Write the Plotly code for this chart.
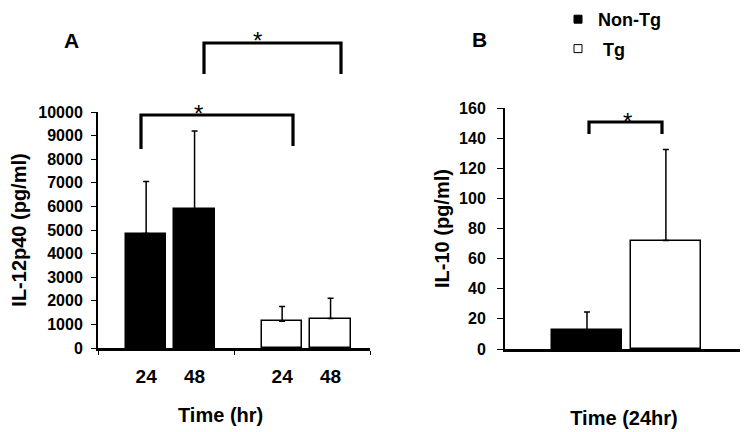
import plotly.graph_objects as go

# ---------------- data ----------------
groups = ["Non-Tg", "Tg"]
times_a = ["24", "48"]
# Panel A: IL-12p40 (pg/ml), mean and upper error (SD) per time, per group
il12_mean = {"24": [4850, 1130], "48": [5900, 1250]}
il12_sd = {"24": [2200, 630], "48": [3300, 860]}
# Panel B: IL-10 (pg/ml) at 24 hr
il10_mean = [12.5, 72]
il10_sd = [12, 60.5]

y_ticks_a = [0, 1000, 2000, 3000, 4000, 5000, 6000, 7000, 8000, 9000, 10000]
y_ticks_b = [0, 20, 40, 60, 80, 100, 120, 140, 160]

# ---------------- style ----------------
FONT = "Liberation Sans, Arial, sans-serif"
W, H = 748, 432
PAGE_OFF = 8  # page body margin compensation
fill = {"Non-Tg": "black", "Tg": "white"}
offsets_a = {"24": -0.294, "48": 0.062}
bar_w_a = 0.296
offsets_b = {"Non-Tg": -0.3025, "Tg": 0.029}
bar_w_b = 0.294


def px(x):
    return (x - PAGE_OFF) / W


def py(y):
    return 1 - (y - PAGE_OFF) / H


fig = go.Figure()

# Panel A bars
gx = list(range(len(groups)))
tickvals_a, ticktext_a = [], []
for t in times_a:
    fig.add_trace(go.Bar(
        x=gx, y=il12_mean[t], xaxis="x", yaxis="y",
        offset=offsets_a[t], width=bar_w_a,
        marker=dict(color=[fill[g] for g in groups],
                    line=dict(color="black", width=1.5)),
        error_y=dict(type="data", symmetric=False, array=il12_sd[t],
                     arrayminus=[0] * len(groups), color="black",
                     thickness=1.5, width=3),
        showlegend=False, name=t,
    ))
    for i in gx:
        tickvals_a.append(i + offsets_a[t] + bar_w_a / 2)
        ticktext_a.append(t)

# Panel B bars
for gi, g in enumerate(groups):
    fig.add_trace(go.Bar(
        x=[0], y=[il10_mean[gi]], xaxis="x2", yaxis="y2",
        offset=offsets_b[g], width=bar_w_b,
        marker=dict(color=fill[g], line=dict(color="black", width=1.5)),
        error_y=dict(type="data", symmetric=False, array=[il10_sd[gi]],
                     arrayminus=[0], color="black", thickness=1.5, width=3),
        showlegend=False, name=g,
    ))

# legend entries
for gi, g in enumerate(groups):
    fig.add_trace(go.Scatter(
        x=[None], y=[None], mode="markers", xaxis="x2", yaxis="y2",
        name=g if g != "Tg" else "\u00a0Tg", legendgroup=g,
        marker=dict(symbol="square", size=8, color=fill[g],
                    line=dict(color="black", width=1)),
    ))

axis_font = dict(family=FONT, size=16, color="black", weight="bold")
title_font = dict(family=FONT, size=20, color="black", weight="bold")

fig.update_layout(
    width=W, height=H,
    margin=dict(l=0, r=0, t=0, b=0, autoexpand=False),
    paper_bgcolor="white", plot_bgcolor="white",
    font=dict(family=FONT, color="black"),
    bargap=0,
    xaxis=dict(
        domain=[px(98), px(370)], range=[-0.5, 1.5], anchor="y",
        automargin=False,
        showline=True, linecolor="black", linewidth=2.5,
        showgrid=False, zeroline=False,
        tickmode="array", tickvals=tickvals_a, ticktext=ticktext_a,
        ticks="", ticklabelstandoff=9,
        tickfont=dict(family=FONT, size=19, color="black", weight="bold"),
        minor=dict(tickmode="linear", tick0=-0.5, dtick=1, ticks="outside",
                   ticklen=4, tickcolor="black", tickwidth=1),
    ),
    yaxis=dict(
        domain=[py(348), py(112)], range=[0, 10000], anchor="x",
        automargin=False,
        showline=True, linecolor="black", linewidth=2,
        showgrid=False, zeroline=False,
        tickmode="array", tickvals=y_ticks_a,
        ticktext=[str(v) for v in y_ticks_a],
        ticks="outside", ticklen=5, tickcolor="black", tickwidth=1,
        ticklabelstandoff=5, tickfont=axis_font,
        title=dict(text="IL-12p40 (pg/ml)", font=title_font, standoff=6),
    ),
    xaxis2=dict(
        domain=[px(505), px(743)], range=[-0.5, 0.5], anchor="y2",
        automargin=False,
        showline=True, linecolor="black", linewidth=2.5,
        showgrid=False, zeroline=False, showticklabels=False, ticks="",
        title=dict(text="Time (24hr)", font=title_font, standoff=61),
    ),
    yaxis2=dict(
        domain=[py(349), py(108)], range=[0, 160], anchor="x2",
        automargin=False,
        showline=True, linecolor="black", linewidth=2,
        showgrid=False, zeroline=False,
        tickmode="array", tickvals=y_ticks_b,
        ticktext=[str(v) for v in y_ticks_b],
        ticks="outside", ticklen=6, tickcolor="black", tickwidth=1,
        ticklabelstandoff=8, tickfont=axis_font,
        title=dict(text="IL-10 (pg/ml)", font=title_font, standoff=4),
    ),
    legend=dict(
        x=px(558), y=py(1), xanchor="left", yanchor="top",
        font=dict(family=FONT, size=18, color="black", weight="bold"),
        tracegroupgap=3, bgcolor="rgba(0,0,0,0)",
    ),
)

# x title of panel A (offset left of the axis centre, as in the original)
fig.add_annotation(text="Time (hr)", x=px(220), y=py(415), xref="paper",
                   yref="paper", xanchor="center", yanchor="middle",
                   showarrow=False, font=title_font)

# significance brackets
bracket = dict(type="path", xref="paper", yref="paper",
               line=dict(color="black", width=3.2))


def bpath(x0, x1, ytop, yl, yr):
    return (f"M {px(x0)} {py(yl)} L {px(x0)} {py(ytop)} "
            f"L {px(x1)} {py(ytop)} L {px(x1)} {py(yr)}")


fig.add_shape(path=bpath(141, 293, 115, 149, 146), **bracket)
fig.add_shape(path=bpath(204, 341, 43, 74, 74), **bracket)
fig.add_shape(path=bpath(589, 662, 122, 134, 134), **bracket)

star_font = dict(family=FONT, size=24, color="black")
for (x, y) in [(198, 107), (257, 35), (627, 115)]:
    fig.add_annotation(text="*", x=px(x), y=py(y + 6), xref="paper", yref="paper",
                       xanchor="center", yanchor="middle",
                       showarrow=False, font=star_font)

panel_font = dict(family=FONT, size=21, color="black", weight="bold")
fig.add_annotation(text="A", x=px(72), y=py(41), xref="paper", yref="paper",
                   xanchor="center", yanchor="middle",
                   showarrow=False, font=panel_font)
fig.add_annotation(text="B", x=px(479), y=py(39), xref="paper", yref="paper",
                   xanchor="center", yanchor="middle",
                   showarrow=False, font=panel_font)

fig.write_html("out.html")
